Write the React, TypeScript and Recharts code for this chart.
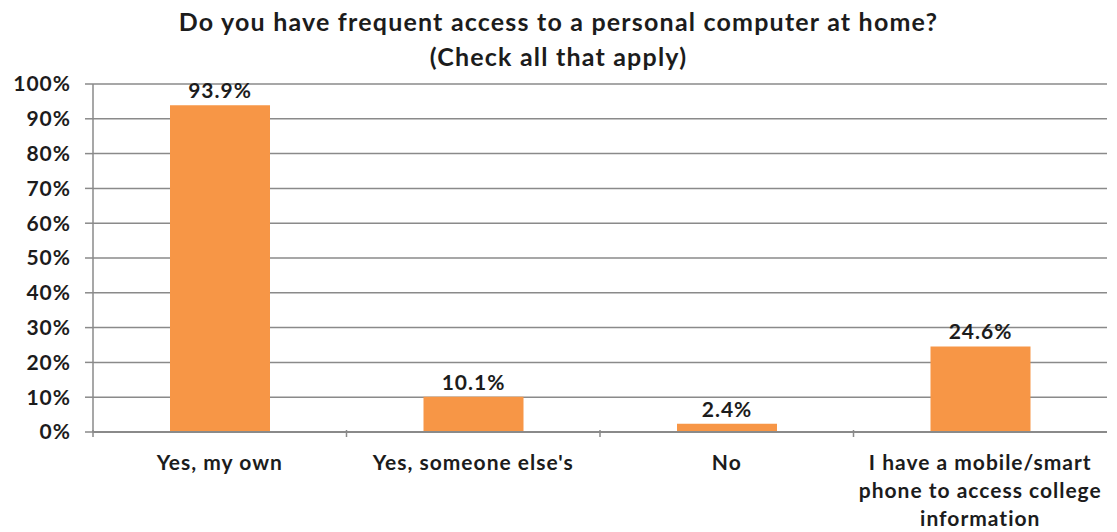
import React from "react";
import { BarChart, Bar, XAxis, YAxis, CartesianGrid, LabelList } from "recharts";

const categories = [
  "Yes, my own",
  "Yes, someone else's",
  "No",
  "I have a mobile/smart\nphone to access college\ninformation",
];
const shares = [93.9, 10.1, 2.4, 24.6];
const yTicks = [0, 10, 20, 30, 40, 50, 60, 70, 80, 90, 100];
const titleLines = [
  "Do you have frequent access to a personal computer at home?",
  "(Check all that apply)",
];

const data = categories.map((name, i) => ({ name, value: shares[i] }));

const W = 1117;
const H = 532;
const FONT = "Lato, 'Open Sans', sans-serif";
const TEXT = "#1c1c1c";
const GRID = "#8a8a8a";
const BAR = "#f79646";
const SPACING = 1;

const PLOT_LEFT = 93;
const PLOT_RIGHT = 10;
const BAND = (W - PLOT_LEFT - PLOT_RIGHT) / categories.length;

function CategoryTick(props: any) {
  const { x, y, payload } = props;
  const lines = String(payload.value).split("\n");
  return (
    <g>
      <line x1={x - BAND / 2} x2={x - BAND / 2} y1={y - 10} y2={y - 3} stroke={GRID} strokeWidth={1.5} />
      <text
        x={x}
        y={y + 30}
        textAnchor="middle"
        fill={TEXT}
        fontFamily={FONT}
        fontWeight={700}
        fontSize={21}
        letterSpacing={SPACING}
      >
        {lines.map((l, i) => (
          <tspan key={i} x={x} dy={i === 0 ? 0 : 28}>
            {l}
          </tspan>
        ))}
      </text>
    </g>
  );
}

export default function App() {
  return (
    <div style={{ position: "fixed", left: 0, top: 0, width: W, height: H, background: "#fff" }}>
      <div
        style={{
          position: "absolute",
          left: 0,
          top: 4,
          width: W,
          textAlign: "center",
          fontFamily: FONT,
          fontWeight: 700,
          fontSize: 25,
          letterSpacing: 1.2,
          lineHeight: "35px",
          color: TEXT,
        }}
      >
        {titleLines.map((t) => (
          <div key={t}>{t}</div>
        ))}
      </div>
      <BarChart
        width={W}
        height={H}
        data={data}
        margin={{ top: 84, right: PLOT_RIGHT, left: 0, bottom: 70 }}
        style={{ position: "absolute", left: 0, top: 0 }}
      >
        <CartesianGrid vertical={false} stroke={GRID} strokeWidth={1.5} />
        <YAxis
          width={PLOT_LEFT}
          domain={[0, 100]}
          ticks={yTicks}
          interval={0}
          tickFormatter={(v: number) => `${v}%`}
          axisLine={{ stroke: GRID, strokeWidth: 1.5 }}
          tickLine={{ stroke: GRID, strokeWidth: 1.5 }}
          tickSize={8}
          tickMargin={14}
          tick={{ fill: TEXT, fontFamily: FONT, fontWeight: 700, fontSize: 21, letterSpacing: SPACING }}
        />
        <XAxis
          dataKey="name"
          interval={0}
          axisLine={{ stroke: GRID, strokeWidth: 2 }}
          tickLine={false}
          tick={<CategoryTick />}
        />
        <Bar dataKey="value" fill={BAR} barSize={100} isAnimationActive={false}>
          <LabelList
            dataKey="value"
            position="top"
            offset={7}
            formatter={(v: any) => `${Number(v).toFixed(1)}%`}
            fill={TEXT}
            fontFamily={FONT}
            fontWeight={700}
            fontSize={21}
            letterSpacing={SPACING}
          />
        </Bar>
      </BarChart>
    </div>
  );
}
